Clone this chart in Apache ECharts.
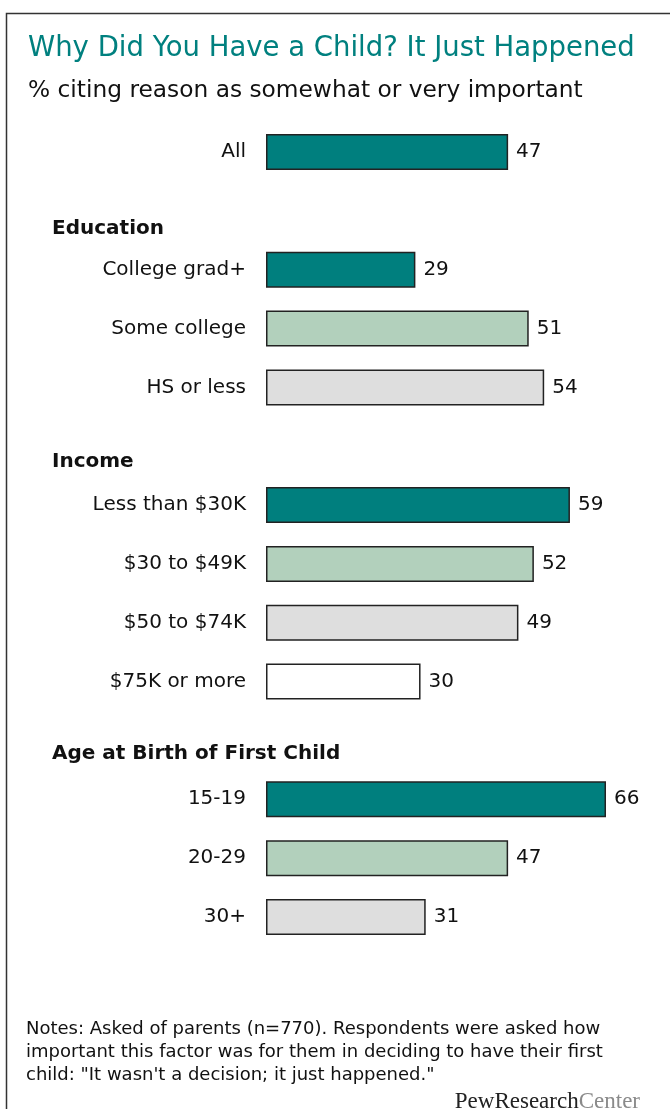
<!DOCTYPE html>
<html>
<head>
<meta charset="utf-8">
<script src="https://cdn.jsdelivr.net/npm/echarts@6/dist/echarts.min.js"></script>
<style>
  html, body { margin: 0; padding: 0; background: #fff; }
  #chart { width: 670px; height: 1109px; }
</style>
</head>
<body>
<div id="chart"></div>
<script>
// rows top to bottom; group headers get their own (empty) row
const categories = ['All', 'Education', 'College grad+', 'Some college', 'HS or less',
  'Income', 'Less than $30K', '$30 to $49K', '$50 to $74K', '$75K or more',
  'Age at Birth of First Child', '15-19', '20-29', '30+']
const values = [47, null, 29, 51, 54, null, 59, 52, 49, 30, null, 66, 47, 31]
const shades = [0, null, 0, 1, 2, null, 0, 1, 2, 3, null, 0, 1, 2]
const headers = ['Education', 'Income', 'Age at Birth of First Child']
const palette = ['#007f7e', '#b2d0bc', '#dedede', '#ffffff']

const title = 'Why Did You Have a Child? It Just Happened'
const subtitle = '% citing reason as somewhat or very important'
const notes = 'Notes: Asked of parents (n=770). Respondents were asked how\nimportant this factor was for them in deciding to have their first\nchild: "It wasn\'t a decision; it just happened."'

const font = '"DejaVu Sans", Verdana, sans-serif'

const dom = echarts.init(document.getElementById('chart'))

const headerTops = { 'Education': 219, 'Income': 452, 'Age at Birth of First Child': 744 }

const option = {
  animation: false,
  textStyle: { fontFamily: font },
  grid: { left: 266, right: 64, top: 122.6, bottom: 162.6, containLabel: false },
  xAxis: {
    type: 'value', min: 0, max: 66,
    show: false
  },
  yAxis: {
    type: 'category',
    inverse: true,
    data: categories,
    axisLine: { show: false },
    axisTick: { show: false },
    splitLine: { show: false },
    axisLabel: {
      margin: 20,
      fontSize: 20,
      color: '#111',
      fontFamily: font,
      formatter: function (v) {
        return headers.indexOf(v) >= 0 ? '' : v
      }
    }
  },
  series: [{
    type: 'bar',
    barWidth: 36,
    data: values.map((v, i) => ({
      value: v,
      itemStyle: {
        color: shades[i] == null ? 'transparent' : palette[shades[i]],
        borderColor: '#222',
        borderWidth: 1.5
      }
    })),
    label: {
      show: true,
      position: 'right',
      distance: 8,
      fontSize: 20,
      color: '#111',
      fontFamily: font
    }
  }],
  graphic: [
    {
      type: 'rect', silent: true,
      shape: { x: 6.5, y: 13.5, width: 700, height: 1200 },
      style: { fill: 'none', stroke: '#333', lineWidth: 1.5 }
    },
    {
      type: 'text', left: 28, top: 35,
      style: { text: title, fontSize: 27.5, fill: '#00807f', fontFamily: font }
    },
    {
      type: 'text', left: 28, top: 79,
      style: { text: subtitle, fontSize: 23.3, fill: '#111', fontFamily: font }
    },
    ...headers.map(h => ({
      type: 'text', left: 52, top: headerTops[h],
      style: { text: h, fontSize: 20, fontWeight: 'bold', fill: '#111', fontFamily: font }
    })),
    {
      type: 'text', left: 26, top: 1018,
      style: { text: notes, fontSize: 18, lineHeight: 23, fill: '#111', fontFamily: font }
    },
    {
      type: 'text', right: 30, top: 1090,
      style: {
        text: '{a|PewResearch}{b|Center}',
        rich: {
          a: { fontFamily: '"Liberation Serif", serif', fontSize: 23, fill: '#222' },
          b: { fontFamily: '"Liberation Serif", serif', fontSize: 23, fill: '#8a8a8a' }
        }
      }
    }
  ]
}
dom.setOption(option)
</script>
</body>
</html>
